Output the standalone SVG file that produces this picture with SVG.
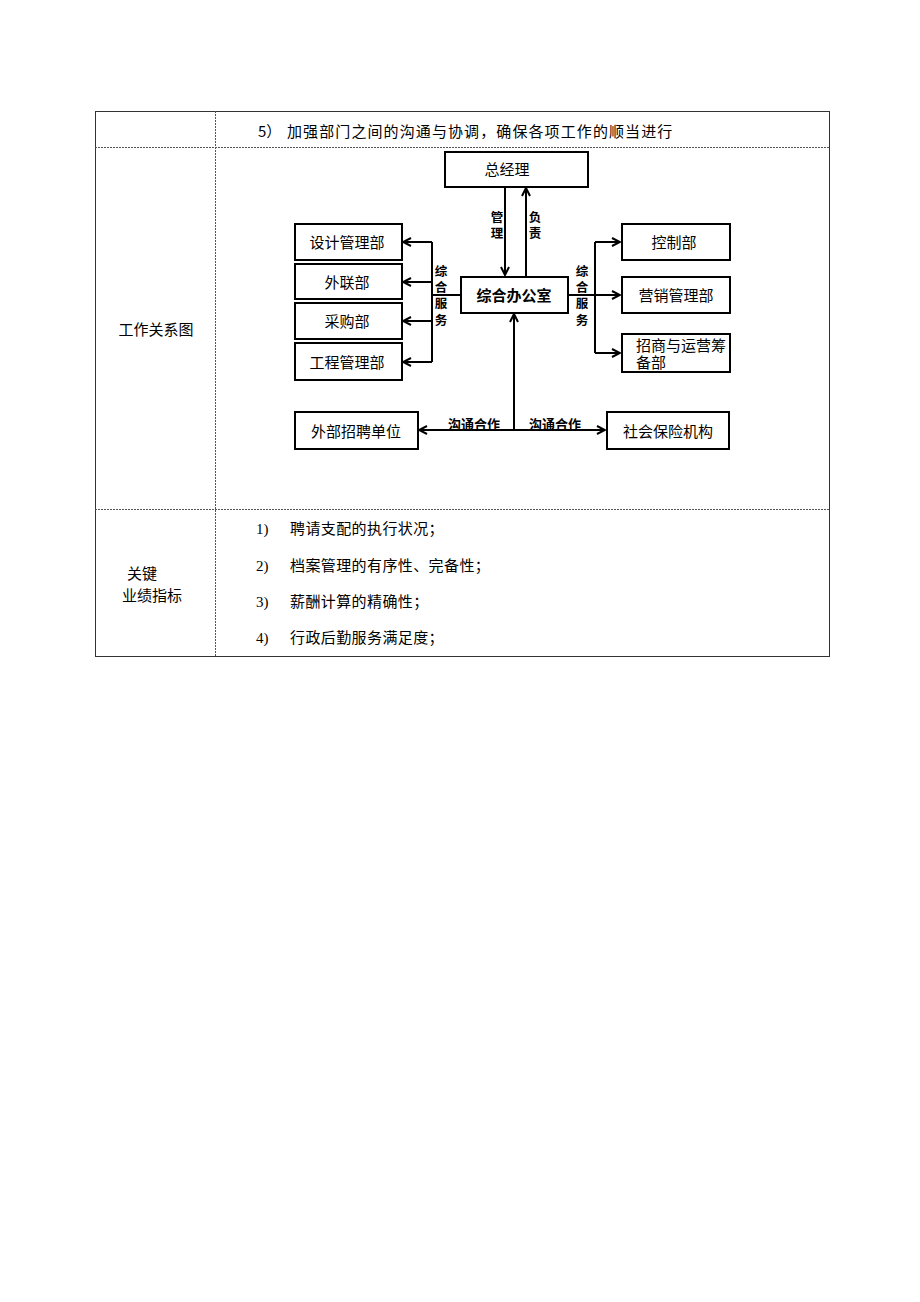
<svg xmlns="http://www.w3.org/2000/svg" width="920" height="1302" viewBox="0 0 920 1302">
<defs>
<style>
.t{font-family:"Noto Sans CJK SC","Liberation Sans",sans-serif;font-size:15px;fill:#000}
.l{font-family:"Noto Sans CJK SC","Liberation Sans",sans-serif;font-size:15px;letter-spacing:0.4px;fill:#000}
.b{font-family:"Noto Sans CJK SC","Liberation Sans",sans-serif;font-size:13px;font-weight:bold;fill:#000}
.v{font-family:"Noto Sans CJK SC","Liberation Sans",sans-serif;font-size:12.5px;font-weight:bold;fill:#000}
.n{font-family:"Liberation Serif","Noto Sans CJK SC",serif;font-size:15px;fill:#000}
.box{fill:#fff;stroke:#000;stroke-width:2}
.ln{stroke:#000;stroke-width:2;fill:none}
.grid{stroke:#555;stroke-width:1;stroke-dasharray:2,1;fill:none}
</style>
<marker id="ah" viewBox="0 0 10 10" refX="9" refY="5" markerWidth="10" markerHeight="10" markerUnits="userSpaceOnUse" orient="auto">
<path d="M1,1 L9,5 L1,9" fill="none" stroke="#000" stroke-width="2"/>
</marker>
</defs>
<rect width="920" height="1302" fill="#fff"/>
<g id="table">
<rect x="95.5" y="111.5" width="734" height="545" fill="none" stroke="#333" stroke-width="1"/>
<line class="grid" x1="215.5" y1="111" x2="215.5" y2="656"/>
<line class="grid" x1="95" y1="147.5" x2="829" y2="147.5"/>
<line class="grid" x1="95" y1="509.5" x2="829" y2="509.5"/>
<text class="t" x="258" y="137">5）</text>
<text class="t" x="287" y="137" style="letter-spacing:1.1px">加强部门之间的沟通与协调，确保各项工作的顺当进行</text>
<text class="t" x="156" y="335" text-anchor="middle">工作关系图</text>
<text class="t" x="127" y="579">关键</text>
<text class="t" x="122" y="601">业绩指标</text>
<text class="n" x="256" y="534">1)</text><text class="l" x="290" y="534">聘请支配的执行状况；</text>
<text class="n" x="256" y="571">2)</text><text class="l" x="290" y="571">档案管理的有序性、完备性；</text>
<text class="n" x="256" y="607">3)</text><text class="l" x="290" y="607">薪酬计算的精确性；</text>
<text class="n" x="256" y="643">4)</text><text class="l" x="290" y="643">行政后勤服务满足度；</text>
</g>
<g id="connectors">
<line class="ln" x1="505" y1="187" x2="505" y2="275" marker-end="url(#ah)"/>
<line class="ln" x1="526" y1="276" x2="526" y2="188" marker-end="url(#ah)"/>
<line class="ln" x1="461" y1="295" x2="432" y2="295"/>
<line class="ln" x1="432" y1="242" x2="432" y2="362"/>
<line class="ln" x1="432" y1="242" x2="403" y2="242" marker-end="url(#ah)"/>
<line class="ln" x1="432" y1="282" x2="403" y2="282" marker-end="url(#ah)"/>
<line class="ln" x1="432" y1="321" x2="403" y2="321" marker-end="url(#ah)"/>
<line class="ln" x1="432" y1="362" x2="403" y2="362" marker-end="url(#ah)"/>
<line class="ln" x1="568" y1="295" x2="620" y2="295" marker-end="url(#ah)"/>
<line class="ln" x1="595" y1="242" x2="595" y2="353"/>
<line class="ln" x1="595" y1="242" x2="620" y2="242" marker-end="url(#ah)"/>
<line class="ln" x1="595" y1="353" x2="620" y2="353" marker-end="url(#ah)"/>
<line class="ln" x1="514" y1="430" x2="514" y2="314" marker-end="url(#ah)"/>
<line class="ln" x1="514" y1="430" x2="419" y2="430" marker-end="url(#ah)"/>
<line class="ln" x1="514" y1="430" x2="605" y2="430" marker-end="url(#ah)"/>
<text class="v" text-anchor="middle"><tspan x="497" y="222">管</tspan><tspan x="497" y="238">理</tspan></text>
<text class="v" text-anchor="middle"><tspan x="535" y="222">负</tspan><tspan x="535" y="238">责</tspan></text>
<text class="v" text-anchor="middle"><tspan x="441" y="276">综</tspan><tspan x="441" y="292">合</tspan><tspan x="441" y="308">服</tspan><tspan x="441" y="325">务</tspan></text>
<text class="v" text-anchor="middle"><tspan x="582" y="276">综</tspan><tspan x="582" y="292">合</tspan><tspan x="582" y="308">服</tspan><tspan x="582" y="325">务</tspan></text>
<text class="b" x="474" y="429" text-anchor="middle">沟通合作</text>
<text class="b" x="555" y="429" text-anchor="middle">沟通合作</text>
</g>
<g id="n-zjl"><rect class="box" x="445" y="152" width="143" height="35"/><text class="t" x="507" y="175" text-anchor="middle">总经理</text></g>
<g id="n-sj"><rect class="box" x="295" y="224" width="107" height="36"/><text class="t" x="347" y="248" text-anchor="middle">设计管理部</text></g>
<g id="n-wl"><rect class="box" x="295" y="264" width="107" height="35"/><text class="t" x="347" y="288" text-anchor="middle">外联部</text></g>
<g id="n-cg"><rect class="box" x="295" y="303" width="107" height="36"/><text class="t" x="347" y="327" text-anchor="middle">采购部</text></g>
<g id="n-gc"><rect class="box" x="295" y="343" width="107" height="37"/><text class="t" x="347" y="368" text-anchor="middle">工程管理部</text></g>
<g id="n-zh"><rect class="box" x="461" y="277" width="107" height="36"/><text class="b" x="514" y="301" text-anchor="middle" style="font-size:15px">综合办公室</text></g>
<g id="n-kz"><rect class="box" x="622" y="224" width="108" height="36"/><text class="t" x="674" y="248" text-anchor="middle">控制部</text></g>
<g id="n-yx"><rect class="box" x="622" y="277" width="108" height="36"/><text class="t" x="676" y="301" text-anchor="middle">营销管理部</text></g>
<g id="n-zs"><rect class="box" x="622" y="334" width="108" height="38"/><text class="t"><tspan x="636" y="351">招商与运营筹</tspan><tspan x="636" y="368">备部</tspan></text></g>
<g id="n-wb"><rect class="box" x="295" y="412" width="123" height="37"/><text class="t" x="356" y="437" text-anchor="middle">外部招聘单位</text></g>
<g id="n-sb"><rect class="box" x="607" y="412" width="122" height="37"/><text class="t" x="668" y="437" text-anchor="middle">社会保险机构</text></g>
</svg>
